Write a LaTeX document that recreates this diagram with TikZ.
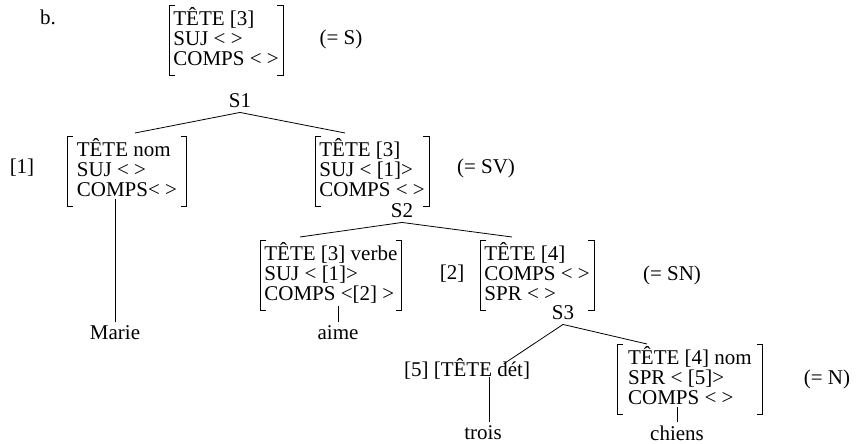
\documentclass[tikz,border=0pt]{standalone}
\usepackage{fontspec}
\setmainfont{Liberation Serif}
\usetikzlibrary{calc}
\usetikzlibrary{positioning}
\tikzset{
  avm/.style={align=left, anchor=north west, inner xsep=4pt, inner ysep=2pt},
  cat/.style={inner sep=4pt},
  every picture/.style={line width=0.8pt}
}
\newcommand{\featBrackets}[1]{
  \foreach \side/\dir in {west/1,east/-1} {
  \draw ($(#1.north \side)+(\dir*6,0)$) -- (#1.north \side) -- ++(0,70) -- ++(\dir*6,0);
  }
}

\begin{document}
\begin{tikzpicture}[x=1pt, y=-1pt, font=\fontsize{21}{20}\selectfont]
  \useasboundingbox (0,0) rectangle (867,444);
  \node (ex) at (48,17) {b.};
  \begin{scope}[every node/.style={avm}]
    \node (avms) at (169,5) {TÊTE [3]\\SUJ < >\\COMPS < >};
    \node [minimum width=119pt] (avml) at (67,136) {TÊTE nom\\SUJ < >\\COMPS< >};
    \node (avmr) at (315,136) {TÊTE [3]\\SUJ < [1]>\\COMPS < >};
    \node (avmv) at (260,240) {TÊTE [3] verbe\\SUJ < [1]>\\COMPS <[2] >};
    \node (avmn) at (480,240) {TÊTE [4]\\COMPS < >\\SPR < >};
    \node [minimum width=145pt] (avmd) at (617,344) {TÊTE [4] nom\\SPR < [5]>\\COMPS < >};
  \end{scope}
  \foreach \n in {avms,avml,avmr,avmv,avmn,avmd} {\featBrackets{\n}}

  \node (eqs) at (341,39) {(= S)};
  \node (eqsv) at (486,168) {(= SV)};
  \node (eqsn) at (672,275) {(= SN)};
  \node (eqn) at (827,379) {(= N)};
  \node (tag1) at (22,168) {[1]};
  \node (tag2) at (452,274) {[2]};
  \node [cat] (s1) at (240,101) {S1};
  \node [cat] (s2) at (402,211) {S2};
  \node [cat] (s3) at (563,313) {S3};
  \node (det) at (467,369) {[5] [TÊTE dét]};

  \node (marie) at (115,333) {Marie};
  \node (aime) at (338,333) {aime};
  \node (trois) at (483,433) {trois};
  \node (chiens) at (677,433) {chiens};

  \draw ($(avml.north west)+(68,-3)$) -- (s1.south) -- ($(avmr.north west)+(30,-3)$);
  \draw ($(avmv.north west)+(40,-3)$) -- (s2.south) -- ($(avmn.north west)+(32,-3)$);
  \draw ($(det.north east)+(-30,9)$) -- (s3.south) -- ($(avmd.north west)+(30,0)$);

  \draw (marie.north) -- (marie.north |- avml.south);
  \draw (aime.north) -- (aime.north |- avmv.south);
  \draw (trois.north -| 489,0) -- (det.base -| 489,0);
  \draw (chiens.north) -- (chiens.north |- avmd.south);
\end{tikzpicture}
\end{document}
